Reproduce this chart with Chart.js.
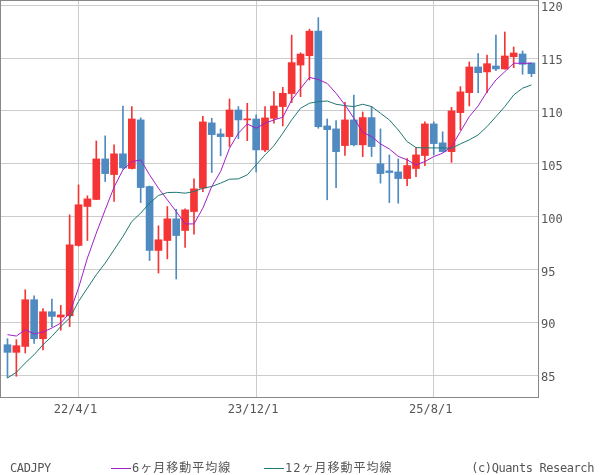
<!DOCTYPE html>
<html lang="ja">
<head>
<meta charset="utf-8">
<title>CADJPY</title>
<script src="https://cdn.jsdelivr.net/npm/chart.js@4.4.1/dist/chart.umd.min.js"></script>
<style>
  html, body { margin: 0; padding: 0; background: #fff; }
  #wrap { position: relative; width: 600px; height: 475px; overflow: hidden; }
  #chart { position: absolute; left: 0; top: 0; }
  .foot { position: absolute; top: 461px; font: 12px 'DejaVu Sans Mono', monospace; color: #555; letter-spacing: -0.4px; white-space: nowrap; line-height: 14px; }
  .foot .mark { display: inline-block; width: 20px; height: 0; border-top: 1px solid; vertical-align: middle; margin-right: 1px; }
  .jp { font-family: 'DejaVu Sans Mono', 'Noto Sans CJK JP', sans-serif; letter-spacing: 1px; }
</style>
</head>
<body>
<div id="wrap">
  <canvas id="chart" width="600" height="475"></canvas>
  <div class="foot" style="left:10px">CADJPY</div>
  <div class="foot jp" style="left:111px"><span class="mark" style="color:#a020c8"></span>6ヶ月移動平均線</div>
  <div class="foot jp" style="left:264px"><span class="mark" style="color:#1f7872"></span>12ヶ月移動平均線</div>
  <div class="foot" style="right:6px">(c)Quants Research</div>
</div>
<script>
// monthly candles, index 0 = 21/8
const open  = [87.88, 87.16, 87.72, 92.14, 88.45, 91.0, 90.5, 90.62, 97.27, 100.96,
               101.62, 105.46, 103.98, 105.94, 104.55, 109.15, 102.85, 96.8, 97.74, 99.79,
               98.69, 100.48, 102.69, 108.87, 107.83, 107.57, 110.09, 109.15, 109.24, 106.31,
               109.3, 110.41, 111.64, 114.34, 115.22, 117.55, 108.58, 108.3, 106.72, 109.15,
               106.79, 109.37, 105.0, 104.33, 104.23, 103.6, 104.55, 105.78, 108.77, 106.98,
               106.15, 109.84, 111.73, 114.16, 113.69, 114.25, 113.97, 115.13, 115.39, 114.54];
const high  = [88.45, 88.36, 93.08, 92.5, 91.3, 92.2, 91.6, 100.17, 103.0, 101.97,
               107.16, 107.64, 106.79, 110.47, 110.41, 109.34, 102.9, 99.13, 100.96, 100.7,
               100.74, 103.57, 109.5, 109.31, 108.3, 111.13, 110.41, 110.73, 109.62, 110.41,
               111.82, 112.23, 117.17, 115.5, 117.74, 118.83, 109.24, 109.08, 110.82, 111.51,
               109.9, 110.41, 108.3, 105.84, 105.46, 105.5, 106.5, 108.96, 108.96, 108.02,
               110.34, 112.3, 114.63, 115.42, 115.29, 117.18, 117.47, 116.05, 115.67, 114.54];
const low   = [84.75, 84.9, 87.1, 88.0, 87.4, 89.6, 89.25, 89.6, 97.2, 97.74,
               101.6, 103.32, 101.43, 104.5, 104.5, 101.33, 95.85, 94.66, 96.0, 94.1,
               97.08, 98.35, 102.37, 104.17, 105.75, 106.63, 107.38, 107.19, 104.23, 106.15,
               108.84, 108.58, 110.78, 111.35, 112.93, 108.36, 101.59, 102.75, 105.78, 106.7,
               105.68, 105.68, 103.17, 101.33, 101.27, 102.94, 103.79, 104.83, 105.84, 106.1,
               105.13, 108.2, 110.47, 111.73, 111.73, 113.81, 113.95, 114.09, 113.47, 113.24];
const close = [87.16, 87.79, 92.14, 88.45, 91.0, 90.56, 90.7, 97.33, 101.12, 101.68,
               105.46, 104.07, 105.94, 104.61, 109.24, 102.75, 96.8, 97.81, 99.79, 98.21,
               100.64, 102.63, 108.96, 107.76, 107.57, 110.09, 109.15, 109.25, 106.31, 109.34,
               110.47, 111.67, 114.57, 115.38, 117.55, 108.51, 108.23, 106.15, 109.15, 106.79,
               109.37, 106.63, 104.07, 104.17, 103.6, 104.83, 105.84, 108.77, 106.91, 106.15,
               110.0, 111.8, 114.16, 113.62, 114.47, 113.97, 115.2, 115.48, 114.41, 113.53];

const ma6  = [88.83, 88.7, 89.3, 88.9, 89.08, 89.46, 89.93, 90.88, 93.24, 96.08,
              98.44, 100.64, 102.79, 104.42, 105.2, 105.37, 103.95, 102.69, 101.59, 100.48,
              99.31, 99.31, 100.8, 102.85, 104.27, 106.47, 107.89, 108.77, 108.36, 108.84,
              109.15, 109.4, 111.03, 112.13, 113.17, 112.98, 112.6, 111.67, 110.57, 109.31,
              107.98, 107.57, 106.88, 106.4, 105.7, 105.37, 104.9, 105.21, 105.68, 106.0,
              106.63, 108.04, 109.46, 110.47, 111.82, 112.93, 113.71, 114.51, 114.51, 114.51];
const ma12 = [84.74, 85.27, 86.15, 86.94, 87.88, 88.67, 89.6, 90.4, 91.98, 93.24,
              94.5, 95.6, 96.86, 98.12, 99.54, 100.33, 101.28, 102.0, 102.28, 102.3,
              102.22, 102.37, 102.69, 102.85, 103.17, 103.54, 103.57, 103.95, 104.9, 105.84,
              106.7, 107.89, 109.15, 110.25, 110.73, 110.88, 110.94, 110.63, 110.5, 110.41,
              110.63, 110.41, 109.78, 109.15, 108.2, 107.1, 106.53, 106.5, 106.5, 106.5,
              106.47, 106.88, 107.26, 107.73, 108.52, 109.46, 110.41, 111.51, 112.15, 112.46];

const tickIndex  = [8, 28, 48];
const tickLabels = ['22/4/1', '23/12/1', '25/8/1'];
const yTicks     = [85, 90, 95, 100, 105, 110, 115, 120];

const upColor = '#f53535';
const downColor = '#4f8bc0';
const axisFont = { family: "'DejaVu Sans Mono', monospace", size: 12 };

const candleColors = open.map((o, i) => (close[i] >= o ? upColor : downColor));

const framePlugin = {
  id: 'frame',
  afterDraw(chart) {
    const { ctx, chartArea: a } = chart;
    ctx.save();
    ctx.strokeStyle = '#888';
    ctx.lineWidth = 1;
    ctx.strokeRect(a.left - 0.5, a.top - 0.5, a.right - a.left, a.bottom - a.top);
    ctx.restore();
  }
};

new Chart(document.getElementById('chart'), {
  type: 'bar',
  data: {
    datasets: [
      {
        type: 'line', label: '6ヶ月移動平均線',
        data: ma6.map((v, i) => ({ x: i, y: v })),
        borderColor: '#a020c8', borderWidth: 1, pointRadius: 0, tension: 0, order: 0
      },
      {
        type: 'line', label: '12ヶ月移動平均線',
        data: ma12.map((v, i) => ({ x: i, y: v })),
        borderColor: '#1f7872', borderWidth: 1, pointRadius: 0, tension: 0, order: 0
      },
      {
        label: 'body',
        data: open.map((o, i) => ({ x: i, y: [Math.min(o, close[i]), Math.max(o, close[i])] })),
        backgroundColor: candleColors, borderWidth: 0, barThickness: 7, minBarLength: 1,
        grouped: false, order: 1
      },
      {
        label: 'wick',
        data: low.map((l, i) => ({ x: i, y: [l, high[i]] })),
        backgroundColor: candleColors, borderWidth: 0, barThickness: 1,
        grouped: false, order: 2
      }
    ]
  },
  options: {
    responsive: false,
    animation: false,
    devicePixelRatio: 1,
    layout: { padding: { left: 1, top: 1, right: 0, bottom: 0 } },
    plugins: { legend: { display: false }, tooltip: { enabled: false } },
    scales: {
      x: {
        type: 'linear',
        min: -0.73,
        max: 59.85,
        offset: false,
        afterFit(scale) {
          scale.height = 77;
          scale.paddingLeft = 0;
          scale.paddingRight = 0;
        },
        afterBuildTicks(scale) { scale.ticks = tickIndex.map((v) => ({ value: v })); },
        grid: { color: '#cccccc', drawTicks: false, offset: false },
        border: { display: false },
        ticks: {
          autoSkip: false, maxRotation: 0, padding: 5, labelOffset: -3,
          color: '#555', font: axisFont,
          callback: (v, i) => tickLabels[i]
        }
      },
      y: {
        position: 'right',
        min: 82.84,
        max: 120.4,
        afterFit(scale) {
          scale.width = 61;
          scale.paddingTop = 0;
          scale.paddingBottom = 0;
        },
        afterBuildTicks(scale) { scale.ticks = yTicks.map((v) => ({ value: v })); },
        grid: { color: '#cccccc', drawTicks: false },
        border: { display: false },
        ticks: { padding: 2, labelOffset: 3, color: '#555', font: axisFont }
      }
    }
  },
  plugins: [framePlugin]
});
</script>
</body>
</html>
